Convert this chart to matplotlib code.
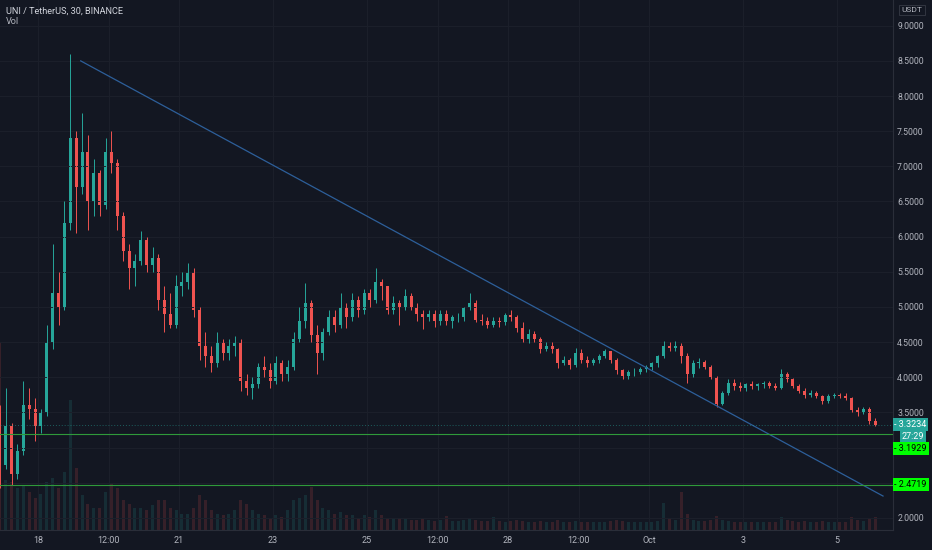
import numpy as np
import pandas as pd
import matplotlib
matplotlib.use("Agg")
import matplotlib.pyplot as plt
import matplotlib.dates as mdates
import matplotlib.transforms as mtransforms

# UNI/USDT (aggregated to 3h candles)
first_open = 3.5
highs = [3.6, 3.85, 3.35, 3.05, 3.95, 3.85, 3.7, 3.55, 4.75, 5.9,
         5.5, 6.5, 8.6, 7.5, 7.76, 7.45, 7.1, 6.95, 7.4, 7.5,
         7.1, 6.35, 5.9, 5.75, 6.08, 6.0, 5.85, 5.75, 5.3, 5.2,
         5.45, 5.5, 5.63, 5.55, 5.0, 4.65, 4.45, 4.65, 4.55, 4.55,
         4.58, 4.55, 4.05, 4.0, 4.2, 4.3, 4.2, 4.3, 4.25, 4.25,
         4.65, 5.0, 5.34, 5.1, 4.75, 4.7, 4.95, 4.95, 5.2, 5.05,
         5.2, 5.15, 5.25, 5.25, 5.56, 5.4, 5.3, 5.15, 5.1, 5.25,
         5.2, 5.05, 4.95, 4.95, 4.95, 4.95, 4.95, 4.88, 4.92, 5.0,
         5.2, 5.1, 4.9, 4.85, 4.85, 4.85, 4.92, 4.95, 4.88, 4.78,
         4.68, 4.66, 4.57, 4.5, 4.5, 4.42, 4.3, 4.28, 4.42, 4.4,
         4.3, 4.28, 4.33, 4.4, 4.38, 4.27, 4.12, 4.1, 4.13, 4.15,
         4.18, 4.22, 4.32, 4.52, 4.5, 4.52, 4.48, 4.35, 4.25, 4.27,
         4.25, 4.18, 4.02, 3.8, 3.98, 3.97, 3.93, 3.92, 3.95, 3.92,
         3.95, 3.95, 3.92, 4.12, 4.08, 3.99, 3.9, 3.85, 3.82, 3.8,
         3.75, 3.76, 3.78, 3.78, 3.77, 3.72, 3.57, 3.58, 3.57, 3.42]
lows = [2.42, 2.7, 2.46, 2.55, 2.9, 3.4, 3.1, 3.2, 3.45, 4.4,
        4.75, 4.95, 6.1, 6.05, 6.6, 6.1, 6.3, 6.3, 6.4, 6.9,
        6.1, 5.65, 5.25, 5.3, 5.6, 5.5, 5.5, 4.95, 4.65, 4.7,
        4.7, 5.15, 5.25, 4.85, 4.25, 4.15, 4.08, 4.15, 4.25, 4.25,
        4.3, 3.8, 3.75, 3.69, 3.85, 4.0, 3.85, 3.9, 3.95, 3.95,
        4.1, 4.5, 4.7, 4.5, 4.05, 4.25, 4.6, 4.65, 4.7, 4.7,
        4.8, 4.85, 4.9, 5.0, 5.05, 5.1, 4.9, 4.9, 4.75, 4.95,
        4.95, 4.8, 4.68, 4.8, 4.72, 4.75, 4.75, 4.7, 4.78, 4.8,
        4.95, 4.78, 4.75, 4.7, 4.72, 4.72, 4.75, 4.8, 4.65, 4.5,
        4.48, 4.5, 4.35, 4.38, 4.35, 4.13, 4.18, 4.12, 4.15, 4.2,
        4.15, 4.17, 4.2, 4.28, 4.2, 4.05, 3.98, 3.98, 4.02, 4.05,
        4.08, 4.1, 4.15, 4.28, 4.38, 4.38, 4.2, 3.92, 4.0, 4.13,
        4.12, 3.97, 3.57, 3.6, 3.75, 3.82, 3.8, 3.8, 3.83, 3.82,
        3.84, 3.85, 3.82, 3.83, 3.93, 3.85, 3.77, 3.71, 3.72, 3.7,
        3.62, 3.64, 3.7, 3.7, 3.68, 3.5, 3.45, 3.47, 3.33, 3.3]
closes = [2.75, 3.3, 2.62, 2.95, 3.6, 3.55, 3.3, 3.5, 4.5, 5.2,
          5.0, 6.2, 7.4, 6.7, 7.2, 6.5, 6.9, 6.45, 7.2, 7.05,
          6.3, 5.8, 5.55, 5.65, 5.95, 5.6, 5.7, 5.1, 4.9, 4.75,
          5.3, 5.35, 5.5, 4.95, 4.45, 4.3, 4.2, 4.5, 4.35, 4.45,
          4.5, 3.95, 3.85, 3.9, 4.15, 4.1, 3.95, 4.2, 4.05, 4.15,
          4.55, 4.8, 5.05, 4.6, 4.35, 4.65, 4.85, 4.75, 5.0, 4.85,
          5.1, 4.95, 5.2, 5.1, 5.35, 5.3, 4.95, 5.05, 5.0, 5.15,
          5.0, 4.9, 4.85, 4.9, 4.8, 4.9, 4.8, 4.85, 4.85, 4.98,
          5.05, 4.82, 4.8, 4.75, 4.8, 4.78, 4.88, 4.85, 4.7, 4.55,
          4.62, 4.55, 4.4, 4.45, 4.4, 4.2, 4.25, 4.18, 4.35, 4.25,
          4.2, 4.25, 4.3, 4.37, 4.25, 4.1, 4.02, 4.07, 4.08, 4.12,
          4.15, 4.2, 4.3, 4.45, 4.42, 4.45, 4.3, 4.05, 4.2, 4.22,
          4.15, 4.0, 3.62, 3.78, 3.92, 3.88, 3.85, 3.9, 3.87, 3.9,
          3.92, 3.88, 3.85, 4.05, 3.97, 3.88, 3.8, 3.75, 3.78, 3.73,
          3.66, 3.73, 3.75, 3.74, 3.7, 3.53, 3.5, 3.55, 3.38, 3.3234]
volumes = [188, 50, 48, 42, 45, 38, 32, 36, 48, 52,
           42, 58, 130, 62, 35, 26, 22, 22, 38, 47,
           42, 30, 26, 22, 22, 20, 25, 30, 30, 22,
           20, 16, 16, 22, 35, 30, 20, 16, 15, 16,
           20, 30, 26, 20, 16, 15, 12, 15, 13, 20,
           30, 32, 35, 43, 30, 22, 20, 16, 18, 15,
           15, 12, 15, 13, 20, 15, 12, 12, 12, 11,
           10, 10, 11, 10, 9, 10, 14, 9, 9, 10,
           12, 10, 9, 9, 13, 9, 8, 9, 10, 9,
           8, 8, 9, 8, 8, 10, 8, 8, 9, 8,
           8, 8, 8, 8, 9, 10, 9, 8, 8, 8,
           8, 8, 9, 27, 12, 10, 38, 16, 10, 9,
           9, 10, 14, 10, 9, 8, 8, 8, 8, 8,
           8, 8, 8, 13, 10, 9, 8, 9, 8, 8,
           9, 8, 8, 8, 8, 13, 10, 9, 11, 13]

trend_times = ["2020-09-18 21:48", "2020-10-05 23:30"]
trend_prices = [8.50, 2.31]
levels = [3.1929, 2.4719]
countdown = "27:29"

price_ticks = [2.0, 2.5, 3.0, 3.5, 4.0, 4.5, 5.0, 5.5, 6.0, 6.5, 7.0, 7.5, 8.0, 8.5, 9.0]
hidden_ticks = [2.5, 3.0]
time_ticks = ["2020-09-18 00:00", "2020-09-19 12:00", "2020-09-21 00:00", "2020-09-23 00:00",
              "2020-09-25 00:00", "2020-09-26 12:00", "2020-09-28 00:00", "2020-09-29 12:00",
              "2020-10-01 00:00", "2020-10-03 00:00", "2020-10-05 00:00"]
time_labels = ["18", "12:00", "21", "23", "25", "12:00", "28", "12:00", "Oct", "3", "5"]

bg = "#131722"
up_col = "#26a69a"
dn_col = "#ef5350"
txt_col = "#b2b5be"
plt.rcParams["font.family"] = ["Roboto", "DejaVu Sans"]

opens = [first_open] + closes[:-1]
times = pd.date_range("2020-09-17 03:00", periods=len(closes), freq="3h")
centers = mdates.date2num(times + pd.Timedelta(hours=1.5))
slot = 3 / 24
is_up = np.array(closes) >= np.array(opens)
cols = np.where(is_up, up_col, dn_col)

fig = plt.figure(figsize=(9.32, 5.5), dpi=100, facecolor=bg)
ax = fig.add_axes([0, 20 / 550, 893 / 932, 530 / 550])
vax = ax.twinx()
ax.set_zorder(vax.get_zorder() + 1)
ax.patch.set_visible(False)
vax.set_facecolor(bg)

# volume, drawn faint behind the candles
vax.bar(centers, volumes, width=slot * 0.5, color=cols, alpha=0.16, linewidth=0)
vax.set_ylim(0, max(volumes) * 530 / 188)
vax.set_yticks([])
for s in vax.spines.values():
    s.set_visible(False)

# candles
body_lo = np.minimum(opens, closes)
body_h = np.maximum(np.abs(np.array(closes) - np.array(opens)), 0.01)
ax.vlines(centers, lows, highs, colors=cols, linewidth=0.7)
ax.bar(centers, body_h, bottom=body_lo, width=slot * 0.5, color=cols, linewidth=0)

# drawings
tt = mdates.date2num(pd.to_datetime(trend_times))
ax.plot(tt, trend_prices, color="#2d5f9a", linewidth=0.9)
for lv in levels:
    ax.axhline(lv, color="#2f9a3a", linewidth=0.8)
ax.axhline(closes[-1], color=up_col, linewidth=0.7, linestyle=(0, (1, 2)), alpha=0.5)

day0 = mdates.date2num(pd.Timestamp("2020-09-18"))
ax.set_xlim(day0 - 38 / 47, day0 + 855 / 47)
ax.set_ylim(1.827, 9.366)

ax.set_xticks(mdates.date2num(pd.to_datetime(time_ticks)))
ax.set_xticklabels(time_labels)
ax.set_yticks(price_ticks)
ax.set_yticklabels(["" if p in hidden_ticks else f"{p:.4f}" for p in price_ticks])
ax.yaxis.tick_right()
ax.tick_params(axis="x", length=0, pad=4.5, labelsize=6.5, labelcolor=txt_col)
ax.tick_params(axis="y", length=0, pad=3, labelsize=6.3, labelcolor=txt_col)
ax.grid(color="#1c202b", linewidth=0.7)
for name, s in ax.spines.items():
    s.set_visible(name in ("right", "bottom"))
    s.set_color("#2a2e39")

# price scale labels
tr = mtransforms.blended_transform_factory(ax.transAxes, ax.transData)
ax.annotate(f"- {closes[-1]:.4f}", xy=(1, closes[-1]), xycoords=tr, xytext=(1, 0),
            textcoords="offset points", va="center", ha="left", fontsize=6.5, color="white",
            annotation_clip=False,
            bbox=dict(boxstyle="square,pad=0.2", fc=up_col, ec="none"))
ax.annotate(countdown, xy=(1, closes[-1]), xycoords=tr, xytext=(6, -8.5),
            textcoords="offset points", va="center", ha="left", fontsize=6.5, color="white",
            annotation_clip=False,
            bbox=dict(boxstyle="square,pad=0.2", fc=up_col, ec="none"))
ax.annotate(f"- {levels[0]:.4f}", xy=(1, levels[0]), xycoords=tr, xytext=(1, -10.5),
            textcoords="offset points", va="center", ha="left", fontsize=6.5, color="black",
            annotation_clip=False,
            bbox=dict(boxstyle="square,pad=0.2", fc="#00ff00", ec="none"))
ax.annotate(f"- {levels[1]:.4f}", xy=(1, levels[1]), xycoords=tr, xytext=(1, 0),
            textcoords="offset points", va="center", ha="left", fontsize=6.5, color="black",
            annotation_clip=False,
            bbox=dict(boxstyle="square,pad=0.2", fc="#00ff00", ec="none"))

fig.text(6 / 932, 1 - 11 / 550, "UNI / TetherUS, 30, BINANCE", color="#d1d4dc",
         fontsize=6.6, va="center", ha="left")
fig.text(6 / 932, 1 - 22 / 550, "Vol", color=txt_col, fontsize=6.6, va="center", ha="left")
fig.text(912 / 932, 1 - 10 / 550, "USDT", color=txt_col, fontsize=6, va="center", ha="center",
         bbox=dict(boxstyle="square,pad=0.25", fc=bg, ec="#363a45", lw=0.6))

fig.savefig("out.png", dpi=100, facecolor=bg)
